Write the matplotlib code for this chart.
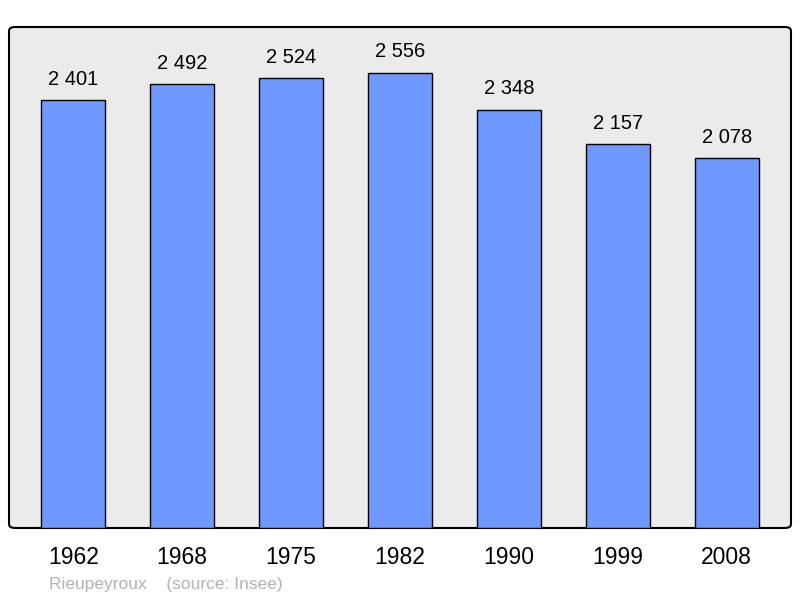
import matplotlib.pyplot as plt
from matplotlib.patches import FancyBboxPatch

#--- data
years = ['1962', '1968', '1975', '1982', '1990', '1999', '2008']
population = [2401, 2492, 2524, 2556, 2348, 2157, 2078]
value_labels = ['2 401', '2 492', '2 524', '2 556', '2 348', '2 157', '2 078']

plt.rcParams['font.family'] = ['Liberation Sans', 'DejaVu Sans']

#--- figure
fig = plt.figure(figsize=(8, 5.98), dpi=100)
ax = fig.add_axes([9 / 800, 70 / 598, 782 / 800, 501 / 598])
ax.set_xlim(-0.59, 6.59)
ax.set_ylim(0, max(population) * 1.1)
ax.axis('off')

# rounded frame
frame = FancyBboxPatch((0, 0), 1, 1, boxstyle='round,pad=0,rounding_size=0.008',
                       transform=ax.transAxes, facecolor='#ebebeb',
                       edgecolor='black', linewidth=1.5, zorder=0, clip_on=False)
ax.add_patch(frame)

x = range(len(years))
ax.bar(x, population, width=0.585, color='#7099ff', edgecolor='black',
       linewidth=1, zorder=2)

for i, (v, lab) in enumerate(zip(population, value_labels)):
    ax.annotate(lab, (i, v), xytext=(0, 8), textcoords='offset points',
                ha='center', va='bottom', fontsize=14.5, color='black')

for i, y in enumerate(years):
    ax.annotate(y, (i, 0), xytext=(0, -21), textcoords='offset points',
                ha='center', va='center', fontsize=16.5, color='black',
                annotation_clip=False)

fig.text(49 / 800, 1 - 584 / 598, 'Rieupeyroux    (source: Insee)',
         fontsize=12.5, color='#b3b3b3', ha='left', va='center')

fig.savefig('out.png', dpi=100)
